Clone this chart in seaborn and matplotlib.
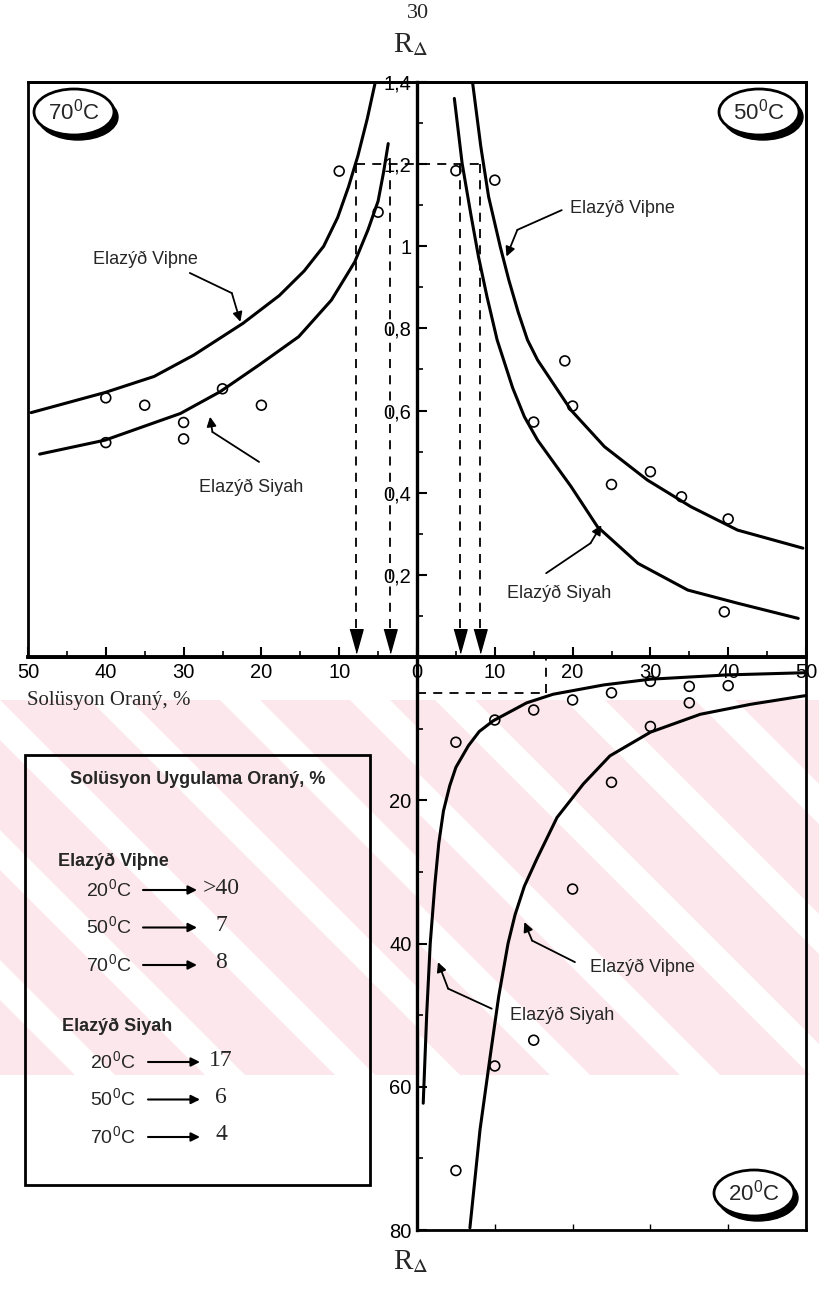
import matplotlib
matplotlib.use("Agg")
import matplotlib.pyplot as plt
import seaborn as sns
from matplotlib.patches import Ellipse, Rectangle, Polygon
from matplotlib.ticker import MultipleLocator, FuncFormatter

sns.set_style("white")
plt.rcParams["font.family"] = ["Liberation Sans", "DejaVu Sans"]
plt.rcParams["mathtext.fontset"] = "stix"
SERIF = ["Liberation Serif", "DejaVu Serif"]

# 70 C  (left half of the top panel, solution ratio read as positive %)
vipne70_x = [49.6, 40.1, 33.8, 28.7, 22.4, 17.7, 14.5, 12.0, 10.2, 8.8, 7.6, 6.4, 5.3]
vipne70_y = [0.595, 0.644, 0.683, 0.735, 0.812, 0.880, 0.940, 1.000, 1.070, 1.145, 1.220, 1.310, 1.405]
siyah70_x = [48.5, 40.1, 30.4, 25.3, 20.3, 15.2, 11.0, 8.0, 6.3, 5.0, 4.3, 3.7]
siyah70_y = [0.494, 0.528, 0.593, 0.646, 0.711, 0.780, 0.869, 0.962, 1.040, 1.110, 1.180, 1.250]
pts70_x = [40, 40, 35, 30, 30, 25, 20, 10, 5]
pts70_y = [0.631, 0.522, 0.613, 0.571, 0.531, 0.653, 0.613, 1.183, 1.083]

# 50 C  (right half of the top panel)
vipne50_x = [7.1, 8.2, 9.2, 10.7, 11.8, 13.0, 14.2, 15.5, 19.8, 24.1, 29.6, 35.2, 41.2, 49.6]
vipne50_y = [1.405, 1.243, 1.121, 0.999, 0.918, 0.840, 0.772, 0.723, 0.601, 0.512, 0.431, 0.366, 0.309, 0.265]
siyah50_x = [4.8, 5.8, 6.9, 7.9, 9.0, 10.3, 12.3, 13.8, 15.5, 19.8, 23.2, 28.4, 34.8, 41.2, 49.0]
siyah50_y = [1.36, 1.202, 1.08, 0.975, 0.877, 0.772, 0.655, 0.585, 0.528, 0.415, 0.317, 0.228, 0.163, 0.131, 0.094]
pts50_x = [5, 10, 15, 19, 20, 25, 30, 34, 40, 39.5]
pts50_y = [1.184, 1.161, 0.572, 0.721, 0.611, 0.42, 0.451, 0.39, 0.336, 0.11]

# 20 C  (bottom panel, R axis downward)
siyah20_x = [0.8, 1.25, 1.7, 2.3, 2.8, 3.4, 4.2, 5.0, 6.6, 8.0, 9.8, 14.1, 17.5, 24.0, 30.0, 39.9, 49.7]
siyah20_y = [62.3, 49.8, 40.0, 31.7, 26.0, 21.5, 18.0, 15.4, 12.4, 10.4, 8.9, 6.4, 5.2, 3.9, 3.1, 2.5, 2.2]
vipne20_x = [6.8, 8.1, 9.4, 10.5, 11.7, 12.6, 13.8, 15.4, 18.0, 21.4, 24.8, 30.0, 36.4, 42.9, 49.9]
vipne20_y = [79.7, 66.0, 55.8, 47.4, 40.0, 36.0, 32.0, 28.2, 22.4, 17.7, 13.8, 10.5, 8.0, 6.6, 5.4]
pts20_x = [5, 10, 15, 20, 25, 30, 35, 35, 40, 30, 25, 20, 15, 10, 5]
pts20_y = [11.9, 8.8, 7.4, 6.0, 5.0, 3.4, 4.1, 6.4, 4.0, 9.7, 17.5, 32.4, 53.5, 57.1, 71.7]

# read-off values (dashed guides)
r_level = 1.2
drop_x = [-7.8, -3.5, 5.5, 8.1]
r20_level = 5.0
r20_x = 16.6

# legend table
temps = ["20", "50", "70"]
vipne_rate = [">40", "7", "8"]
siyah_rate = ["17", "6", "4"]

W, H = 819, 1290
fig = plt.figure(figsize=(W / 100, H / 100), dpi=100)


def box(x0, y0, x1, y1):
    return [x0 / W, 1 - y1 / H, (x1 - x0) / W, (y1 - y0) / H]


# faint watermark stripes behind the lower half
bg = fig.add_axes([0, 0, 1, 1], zorder=0)
bg.set_xlim(0, W)
bg.set_ylim(H, 0)
bg.axis("off")
bg.add_patch(Rectangle((0, 700), W, 375, fc="#fce8ec", ec="none"))
for x0 in range(-300, 420, 130):
    p = Polygon([(x0, 700), (x0 + 40, 700), (x0 + 415, 1075), (x0 + 375, 1075)], fc="white", ec="none")
    bg.add_patch(p)
    p.set_clip_path(Rectangle((0, 700), 420, 375, transform=bg.transData))
for x0 in range(420, 1300, 130):
    p = Polygon([(x0, 1075), (x0 + 40, 1075), (x0 - 335, 700), (x0 - 375, 700)], fc="white", ec="none")
    bg.add_patch(p)
    p.set_clip_path(Rectangle((420, 700), 400, 375, transform=bg.transData))

ax = fig.add_axes(box(28, 82, 806, 657), zorder=2)
axb = fig.add_axes(box(417, 657, 806, 1230), zorder=2)
fg = fig.add_axes([0, 0, 1, 1], zorder=3)
for a in (ax, axb):
    a.patch.set_alpha(0)

line_kw = dict(color="black", lw=2.2, sort=False, estimator=None)
dot_kw = dict(s=50, facecolor="none", edgecolor="black", linewidth=1.2, zorder=4)

# ---- top panel (70 C left, 50 C right)
sns.lineplot(x=[-v for v in vipne70_x], y=vipne70_y, ax=ax, **line_kw)
sns.lineplot(x=[-v for v in siyah70_x], y=siyah70_y, ax=ax, **line_kw)
sns.lineplot(x=vipne50_x, y=vipne50_y, ax=ax, **line_kw)
sns.lineplot(x=siyah50_x, y=siyah50_y, ax=ax, **line_kw)
sns.scatterplot(x=[-v for v in pts70_x], y=pts70_y, ax=ax, **dot_kw)
sns.scatterplot(x=pts50_x, y=pts50_y, ax=ax, **dot_kw)

ax.set_xlim(-50, 50)
ax.set_ylim(0, 1.4)
ax.set_xlabel("")
ax.set_ylabel("")
for s in ax.spines.values():
    s.set_color("black")
    s.set_linewidth(2)
ax.spines["left"].set_position(("data", 0))
ax.spines["left"].set_linewidth(2.4)
ax.spines["bottom"].set_linewidth(2.8)
ax.add_patch(Rectangle((0, 0), 1, 1, transform=ax.transAxes, fill=False, ec="black", lw=2, clip_on=False))


def rlab(v, p):
    if abs(v) < 1e-9:
        return ""
    s = f"{v:.1f}".replace(".", ",")
    return "1" if s == "1,0" else s


ax.xaxis.set_major_locator(MultipleLocator(10))
ax.xaxis.set_minor_locator(MultipleLocator(5))
ax.xaxis.set_major_formatter(FuncFormatter(lambda v, p: f"{abs(round(v)):.0f}"))
ax.yaxis.set_major_locator(MultipleLocator(0.2))
ax.yaxis.set_minor_locator(MultipleLocator(0.1))
ax.yaxis.set_major_formatter(FuncFormatter(rlab))
ax.tick_params(which="both", direction="in", left=True, bottom=True, top=False, right=False, colors="black")
ax.tick_params(which="major", length=7, width=1.5, labelsize=14.5, pad=4)
ax.tick_params(which="minor", length=4, width=1.2)

# dashed read-off guides with arrowheads
dash = (0, (5, 4))
ax.plot([drop_x[0], drop_x[-1]], [r_level, r_level], color="black", lw=1.3, ls=dash)
head = [(-0.28, 0.5), (0.28, 0.5), (0, -0.5)]
for x in drop_x:
    ax.plot([x, x], [r_level, 0.06], color="black", lw=1.3, ls=dash)
    ax.plot([x], [0.039], marker=head, markersize=17, color="black", ls="none")


def leader(a, xs, ys):
    a.plot(xs[:-1], ys[:-1], color="black", lw=1.3)
    a.annotate("", xy=(xs[-1], ys[-1]), xytext=(xs[-2], ys[-2]),
               arrowprops=dict(arrowstyle="-|>", color="black", lw=1.3, mutation_scale=14, shrinkA=0, shrinkB=0))


ax.text(-34.9, 0.967, "Elazýð Viþne", ha="center", va="center", fontsize=13)
leader(ax, [-29.2, -23.8, -22.7], [0.935, 0.886, 0.816])
ax.text(-21.3, 0.414, "Elazýð Siyah", ha="center", va="center", fontsize=13)
leader(ax, [-20.3, -26.3, -26.6], [0.475, 0.548, 0.585])
ax.text(26.4, 1.093, "Elazýð Viþne", ha="center", va="center", fontsize=13)
leader(ax, [18.6, 12.9, 11.5], [1.088, 1.04, 0.975])
ax.text(18.3, 0.156, "Elazýð Siyah", ha="center", va="center", fontsize=13)
leader(ax, [16.6, 22.3, 23.7], [0.204, 0.277, 0.321])

# ---- bottom panel (20 C)
sns.lineplot(x=siyah20_x, y=siyah20_y, ax=axb, **line_kw)
sns.lineplot(x=vipne20_x, y=vipne20_y, ax=axb, **line_kw)
sns.scatterplot(x=pts20_x, y=pts20_y, ax=axb, **dot_kw)
axb.set_xlim(0, 50)
axb.set_ylim(80, 0)
axb.set_xlabel("")
axb.set_ylabel("")
axb.spines["top"].set_visible(False)
for s in ["left", "right", "bottom"]:
    axb.spines[s].set_color("black")
    axb.spines[s].set_linewidth(2)
axb.spines["left"].set_linewidth(2.4)
axb.yaxis.set_major_locator(MultipleLocator(20))
axb.yaxis.set_minor_locator(MultipleLocator(10))
axb.yaxis.set_major_formatter(FuncFormatter(lambda v, p: "" if v == 0 else f"{v:.0f}"))
axb.xaxis.set_major_locator(MultipleLocator(10))
axb.tick_params(which="both", direction="in", left=True, bottom=True, labelbottom=False, colors="black")
axb.tick_params(which="major", length=7, width=1.5, labelsize=14.5, pad=4)
axb.tick_params(which="minor", length=4, width=1.2)
axb.tick_params(axis="x", length=4, width=1)

axb.plot([0, r20_x], [r20_level, r20_level], color="black", lw=1.3, ls=dash)
axb.plot([r20_x, r20_x], [r20_level, 0], color="black", lw=1.3, ls=dash)

axb.text(29.0, 43.3, "Elazýð Viþne", ha="center", va="center", fontsize=13)
leader(axb, [20.3, 14.8, 13.8], [42.6, 39.6, 37.0])
axb.text(18.6, 50.0, "Elazýð Siyah", ha="center", va="center", fontsize=13)
leader(axb, [9.6, 4.0, 2.7], [49.1, 46.3, 42.6])

# ---- page-level texts, badges, summary box
fg.set_xlim(0, W)
fg.set_ylim(H, 0)
fg.axis("off")
fg.text(418, 14, "30", family=SERIF, fontsize=16, ha="center", va="center")
fg.text(411, 45, r"R$_\Delta$", family=SERIF, fontsize=21, ha="center", va="center")
fg.text(411, 1262, r"R$_\Delta$", family=SERIF, fontsize=21, ha="center", va="center")
fg.text(27, 700, "Solüsyon Oraný, %", family=SERIF, fontsize=15, ha="left", va="center")


def badge(cx, cy, t):
    fg.add_patch(Ellipse((cx + 4, cy + 5), 80, 46, color="black"))
    fg.add_patch(Ellipse((cx, cy), 80, 46, fc="white", ec="black", lw=2))
    fg.text(cx, cy, t + r"$^\mathregular{0}$C", ha="center", va="center", fontsize=16)


badge(74, 112, "70")
badge(759, 112, "50")
badge(754, 1193, "20")

fg.add_patch(Rectangle((25, 755), 345, 430, fill=False, ec="black", lw=2))
fg.text(198, 780, "Solüsyon Uygulama Oraný, %", weight="bold", ha="center", va="center", fontsize=13)


def rows(title, ty, y0, rates, xt, xa0, xa1):
    fg.text(xt - 28, ty, title, weight="bold", fontsize=13, va="center")
    for i, (t, v) in enumerate(zip(temps, rates)):
        y = y0 + 37.5 * i
        fg.text(xt, y, t + r"$^\mathregular{0}$C", fontsize=14, va="center")
        fg.annotate("", xy=(xa1, y), xytext=(xa0, y),
                    arrowprops=dict(arrowstyle="-|>", color="black", lw=1.5, mutation_scale=13, shrinkA=0, shrinkB=0))
        fg.text(221, y - 2, v, family=SERIF, fontsize=17, ha="center", va="center")


rows("Elazýð Viþne", 861, 890, vipne_rate, 86, 143, 197)
rows("Elazýð Siyah", 1026, 1062, siyah_rate, 90, 148, 200)

fig.savefig("out.png", dpi=100)
